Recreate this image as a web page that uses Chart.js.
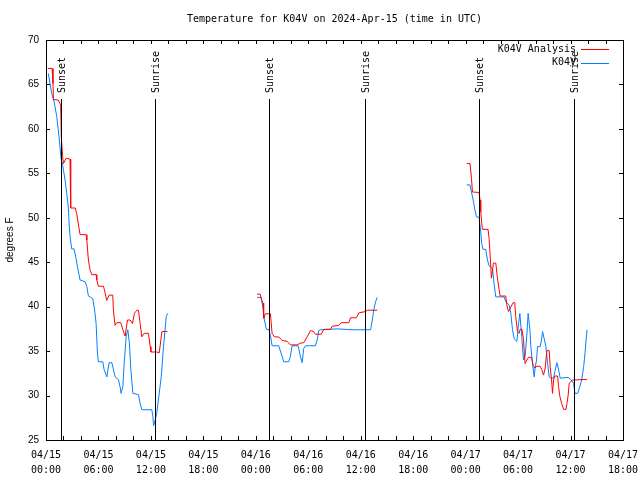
<!DOCTYPE html>
<html>
<head>
<meta charset="utf-8">
<title>Temperature for K04V</title>
<script src="https://cdn.jsdelivr.net/npm/chart.js@4.4.1/dist/chart.umd.min.js"></script>
<style>
    html, body { margin: 0; padding: 0; background: #fff; }
</style>
</head>
<body>
<canvas id="tempChart" width="640" height="480"></canvas>
<script>
// hours since 04/15 00:00 UTC, null temp = gap in the record
var analysisHours = [0.2, 0.7, 0.8, 0.85, 1.4, 1.68, 1.75, 1.9, 2.0, 2.3, 2.75, 2.8, 2.85, 3.35, 3.5, 3.9, 4.6, 4.67, 4.85, 5.05, 5.24, 5.74, 5.81, 5.99, 6.57, 6.68, 6.95, 7.22, 7.64, 7.71, 7.9, 8.1, 8.56, 8.79, 9.05, 9.32, 9.63, 9.89, 10.12, 10.39, 10.58, 10.77, 10.96, 11.23, 11.72, 11.92, 12.0, 12.69, 12.95, 13.26, 13.9,
    19.0,
    24.14, 24.52, 24.6, 24.83, 24.9, 25.09, 25.67, 25.75, 25.86, 26.13, 26.62, 27.01, 27.58, 27.96, 28.73, 29.1, 29.48, 29.87, 30.25, 30.56, 30.82, 31.48, 31.78, 32.54, 32.74, 33.49, 33.77, 34.64, 34.83, 35.52, 35.78, 36.55, 36.75, 37.89,
    43.0,
    48.13, 48.5, 48.67, 48.78, 49.54, 49.65, 49.73, 49.84, 49.92, 50.56, 50.68, 50.79, 50.95, 51.18, 51.45, 51.64, 51.83, 51.94, 52.59, 52.71, 52.9, 53.09, 53.43, 53.62, 53.73, 53.93, 54.12, 54.23, 54.43, 54.62, 54.69, 54.8, 55.0, 55.19, 55.54, 55.72, 55.92, 56.15, 56.52, 56.72, 56.91, 57.1, 57.29, 57.56, 57.67, 57.83, 57.94, 58.06, 58.21, 58.52, 58.63, 58.78, 58.98, 59.21, 59.47, 59.59, 59.73, 59.85, 60.24, 60.62, 61.19, 61.88];
var analysisTemps = [66.8, 66.8, 65.1, 63.3, 63.25, 62.7, 59.1, 56.9, 56.1, 56.7, 56.6, 53.1, 51.1, 51.1, 50.5, 48.1, 48.1, 47.5, 45.25, 44.1, 43.6, 43.6, 43.0, 42.3, 42.3, 41.9, 40.7, 41.3, 41.3, 39.6, 37.9, 38.2, 38.2, 37.4, 36.7, 38.5, 38.5, 38.1, 39.25, 39.6, 39.6, 38.1, 36.6, 37.0, 37.0, 35.5, 34.9, 34.9, 34.8, 37.2, 37.2,
    null,
    41.4, 41.4, 40.9, 40.4, 38.7, 39.2, 39.2, 38.3, 37.0, 36.6, 36.6, 36.2, 36.1, 35.7, 35.7, 35.9, 35.95, 36.6, 37.3, 37.25, 36.9, 36.9, 37.45, 37.45, 37.8, 37.9, 38.2, 38.2, 38.75, 38.75, 39.3, 39.45, 39.6, 39.6,
    null,
    56.1, 56.1, 54.4, 52.9, 52.85, 52.0, 50.7, 49.45, 48.7, 48.7, 47.7, 46.0, 43.2, 44.9, 44.9, 43.2, 41.9, 41.2, 41.2, 40.2, 39.45, 39.8, 40.45, 40.45, 38.9, 37.2, 37.0, 37.45, 37.45, 36.4, 35.1, 33.6, 34.0, 34.3, 34.3, 33.4, 33.1, 33.3, 33.3, 32.9, 32.3, 33.1, 35.05, 35.05, 33.25, 31.75, 30.25, 31.75, 32.2, 32.2, 31.0, 29.9, 29.1, 28.45, 28.45, 29.1, 30.05, 31.4, 31.75, 31.75, 31.8, 31.8];

var obsHours = [0.26, 0.46, 0.65, 0.92, 1.23, 1.49, 1.72, 1.91, 2.06, 2.18, 2.37, 2.56, 2.64, 2.75, 2.94, 3.21, 3.44, 3.63, 3.9, 4.47, 4.66, 4.85, 5.12, 5.35, 5.5, 5.61, 5.73, 5.88, 5.99, 6.5, 6.65, 6.96, 7.22, 7.53, 7.71, 7.91, 8.28, 8.47, 8.59, 8.79, 8.94, 9.17, 9.36, 9.54, 9.71, 9.94, 10.58, 10.77, 10.97, 12.11, 12.23, 12.3, 12.49, 12.68, 12.95, 13.18, 13.44, 13.64, 13.75, 13.94,
    19.0,
    24.14, 24.6, 24.83, 24.98, 25.21, 25.47, 25.67, 25.86, 26.62, 27.01, 27.19, 27.76, 27.96, 28.15, 28.84, 29.1, 29.3, 29.48, 29.68, 30.82, 31.02, 31.2, 31.4, 33.3, 35.0, 36.36, 37.13, 37.32, 37.5, 37.7, 37.89,
    43.0,
    48.13, 48.5, 48.67, 48.9, 49.05, 49.24, 49.54, 49.73, 49.84, 49.99, 50.3, 50.5, 50.68, 51.07, 51.25, 51.45, 52.4, 52.59, 52.97, 53.17, 53.36, 53.55, 53.86, 54.0, 54.2, 54.39, 54.62, 54.8, 55.0, 55.15, 55.35, 55.46, 55.65, 55.84, 55.95, 56.11, 56.22, 56.52, 56.68, 56.8, 56.98, 57.18, 57.37, 57.56, 57.83, 58.06, 58.21, 58.44, 58.63, 58.82, 59.73, 60.04, 60.35, 60.5, 60.81, 61.0, 61.27, 61.5, 61.65, 61.88];
var obsTemps = [66.25, 65.1, 64.0, 63.1, 61.4, 59.1, 56.7, 55.9, 55.0, 54.25, 52.75, 51.1, 49.4, 47.9, 46.5, 46.5, 45.4, 44.3, 43.0, 42.8, 42.3, 41.2, 41.05, 40.9, 40.0, 39.25, 38.1, 34.9, 33.8, 33.8, 32.9, 32.1, 33.7, 33.7, 32.95, 32.1, 31.8, 31.0, 30.25, 31.0, 33.6, 36.6, 37.4, 35.9, 32.9, 30.25, 30.1, 29.1, 28.4, 28.4, 27.6, 26.6, 27.25, 28.1, 30.25, 32.1, 35.5, 37.6, 38.9, 39.25,
    null,
    41.05, 41.05, 39.8, 38.5, 37.45, 37.45, 36.8, 35.6, 35.6, 34.4, 33.8, 33.8, 34.4, 35.6, 35.6, 34.4, 33.7, 35.3, 35.6, 35.6, 36.25, 37.3, 37.4, 37.5, 37.4, 37.4, 37.4, 38.5, 39.7, 40.55, 41.05,
    null,
    53.7, 53.7, 52.9, 51.8, 50.95, 50.1, 50.05, 48.4, 47.1, 46.45, 46.45, 45.25, 44.6, 44.3, 42.6, 41.1, 41.1, 40.55, 40.2, 39.25, 37.4, 36.4, 36.1, 37.6, 39.25, 37.0, 34.0, 34.4, 36.8, 39.25, 37.4, 35.5, 33.6, 32.1, 33.1, 34.0, 35.5, 35.5, 36.25, 37.2, 36.4, 35.5, 33.6, 32.1, 31.95, 31.95, 32.7, 33.7, 32.9, 31.95, 32.05, 31.8, 31.4, 30.25, 30.25, 30.8, 31.75, 33.25, 34.75, 37.4];

var sunHours = [1.72, 12.49, 25.55, 36.44, 49.5, 60.39];
var sunLabels = ["Sunset", "Sunrise", "Sunset", "Sunrise", "Sunset", "Sunrise"];

var seriesNames = ["K04V Analysis", "K04V"];
var seriesColors = ["#ff0000", "#0080ff"];

var titleText = "Temperature for K04V on 2024-Apr-15 (time in UTC)";
var monoFont = "'DejaVu Sans Mono', monospace";

function toPoints(hours, temps) {
    return hours.map(function (h, i) { return { x: h, y: temps[i] }; });
}

function two(n) {
    return (n < 10 ? "0" : "") + n;
}

// gnuplot style extras: frame, inward ticks, sun lines, legend, title
var gnuplotBits = {
    id: "gnuplotBits",
    afterDatasetsDraw: function (chart) {
        var ctx = chart.ctx;
        var area = chart.chartArea;
        var xs = chart.scales.x;
        var ys = chart.scales.y;
        var tick = 4;

        ctx.save();
        ctx.strokeStyle = "#000";
        ctx.lineWidth = 1;

        // sunrise / sunset markers
        ctx.fillStyle = "#000";
        ctx.font = "10px " + monoFont;
        sunHours.forEach(function (h, i) {
            var px = Math.round(xs.getPixelForValue(h)) + 0.5;
            ctx.beginPath();
            ctx.moveTo(px, area.top + 59);
            ctx.lineTo(px, area.bottom);
            ctx.stroke();

            ctx.save();
            ctx.translate(px + 1, area.top + 53);
            ctx.rotate(-Math.PI / 2);
            ctx.textAlign = "left";
            ctx.textBaseline = "middle";
            ctx.fillText(sunLabels[i], 0, 0);
            ctx.restore();
        });

        // frame
        ctx.strokeRect(Math.round(area.left) + 0.5, Math.round(area.top) + 0.5,
            Math.round(area.right - area.left), Math.round(area.bottom - area.top));

        // x ticks every 2 hours, top and bottom
        ctx.beginPath();
        for (var h = 0; h <= 66; h += 2) {
            var px = Math.round(xs.getPixelForValue(h)) + 0.5;
            ctx.moveTo(px, area.bottom);
            ctx.lineTo(px, area.bottom - tick);
            ctx.moveTo(px, area.top);
            ctx.lineTo(px, area.top + tick);
        }
        // y ticks every 5 degrees, left and right
        for (var t = 25; t <= 70; t += 5) {
            var py = Math.round(ys.getPixelForValue(t)) + 0.5;
            ctx.moveTo(area.left, py);
            ctx.lineTo(area.left + tick, py);
            ctx.moveTo(area.right, py);
            ctx.lineTo(area.right - tick, py);
        }
        ctx.stroke();

        // legend, top right inside the plot
        ctx.textAlign = "right";
        ctx.textBaseline = "middle";
        seriesNames.forEach(function (name, i) {
            var ly = area.top + 9 + i * 13.5;
            ctx.fillStyle = "#000";
            ctx.fillText(name, area.right - 47, ly);
            ctx.strokeStyle = seriesColors[i];
            ctx.beginPath();
            ctx.moveTo(area.right - 42, Math.round(ly) + 0.5);
            ctx.lineTo(area.right - 14, Math.round(ly) + 0.5);
            ctx.stroke();
        });

        // title
        ctx.fillStyle = "#000";
        ctx.textAlign = "center";
        ctx.fillText(titleText, (area.left + area.right) / 2, 19);

        ctx.restore();
    }
};

var ctx = document.getElementById("tempChart").getContext("2d");
new Chart(ctx, {
    type: "line",
    data: {
        datasets: [{
            label: seriesNames[0],
            data: toPoints(analysisHours, analysisTemps),
            borderColor: seriesColors[0],
            borderWidth: 1,
            pointRadius: 0,
            fill: false,
            tension: 0,
            spanGaps: false
        }, {
            label: seriesNames[1],
            data: toPoints(obsHours, obsTemps),
            borderColor: seriesColors[1],
            borderWidth: 1,
            pointRadius: 0,
            fill: false,
            tension: 0,
            spanGaps: false
        }]
    },
    options: {
        responsive: false,
        animation: false,
        events: [],
        layout: { padding: { top: 40, right: 17, left: 0, bottom: 0 } },
        plugins: {
            legend: { display: false },
            title: { display: false },
            tooltip: { enabled: false }
        },
        scales: {
            x: {
                type: "linear",
                min: 0,
                max: 66,
                afterFit: function (scale) {
                    scale.height = 40;
                    scale.paddingRight = 0;
                    scale.paddingLeft = 0;
                },
                grid: { display: false, drawTicks: false },
                border: { display: false },
                ticks: {
                    stepSize: 6,
                    maxRotation: 0,
                    autoSkip: false,
                    padding: 8,
                    color: "#000",
                    font: { family: monoFont, size: 10, lineHeight: 1.5 },
                    callback: function (value) {
                        var day = 15 + Math.floor(value / 24);
                        var hr = value % 24;
                        return ["04/" + day, two(hr) + ":00"];
                    }
                }
            },
            y: {
                min: 25,
                max: 70,
                afterFit: function (scale) { scale.width = 46; },
                grid: { display: false, drawTicks: false },
                border: { display: false },
                ticks: {
                    stepSize: 5,
                    padding: 7,
                    color: "#000",
                    font: { family: "'Liberation Sans', sans-serif", size: 10 }
                },
                title: {
                    display: true,
                    text: "degrees F",
                    color: "#000",
                    padding: { top: 4, bottom: 0 },
                    font: { family: "'Liberation Sans', sans-serif", size: 10 }
                }
            }
        }
    },
    plugins: [gnuplotBits]
});
</script>
</body>
</html>
